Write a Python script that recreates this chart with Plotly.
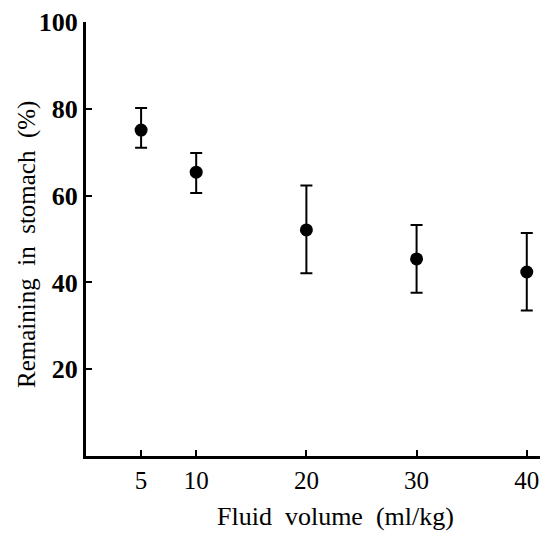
import plotly.graph_objects as go

fluid_volume = [5, 10, 20, 30, 40]
remaining = [75.1, 65.4, 52.1, 45.4, 42.4]
err_plus = [5.1, 4.4, 10.2, 7.8, 9.0]
err_minus = [4.1, 4.8, 10.0, 7.8, 8.9]
x_ticks = [5, 10, 20, 30, 40]
y_ticks = [20, 40, 60, 80, 100]

SERIF = "Liberation Serif, Times New Roman, serif"

fig = go.Figure()
fig.add_trace(go.Scatter(
    x=fluid_volume, y=remaining, mode="markers",
    marker=dict(color="black", size=13),
    error_y=dict(type="data", symmetric=False, array=err_plus, arrayminus=err_minus,
                 color="black", thickness=2, width=6),
    showlegend=False,
))

fig.update_layout(
    width=540, height=533,
    margin=dict(l=86, r=0, t=22, b=77),
    paper_bgcolor="white", plot_bgcolor="white",
    font=dict(family=SERIF, color="black"),
    xaxis=dict(range=[0, 41.2], tickvals=x_ticks, ticks="inside", ticklen=6, tickwidth=2,
               tickcolor="black", showline=True, linecolor="black", linewidth=3,
               showgrid=False, zeroline=False, tickfont=dict(size=25, family=SERIF)),
    yaxis=dict(range=[0, 100], tickvals=y_ticks, ticks="inside", ticklen=6, tickwidth=2,
               tickcolor="black", showline=True, linecolor="black", linewidth=3,
               showgrid=False, zeroline=False,
               tickfont=dict(size=26, family=SERIF, weight="bold")),
    annotations=[
        dict(text="Fluid  volume  (ml/kg)", xref="paper", yref="paper",
             x=(335 - 86) / 454, y=-(516 - 456) / 434, xanchor="center", yanchor="middle",
             showarrow=False, font=dict(size=26, family=SERIF)),
        dict(text="Remaining  in  stomach  (%)", xref="paper", yref="paper",
             x=-(86 - 27) / 454, y=(456 - 245) / 434, xanchor="center", yanchor="middle",
             textangle=-90, showarrow=False, font=dict(size=25, family=SERIF)),
    ],
)

fig.write_html("out.html")
